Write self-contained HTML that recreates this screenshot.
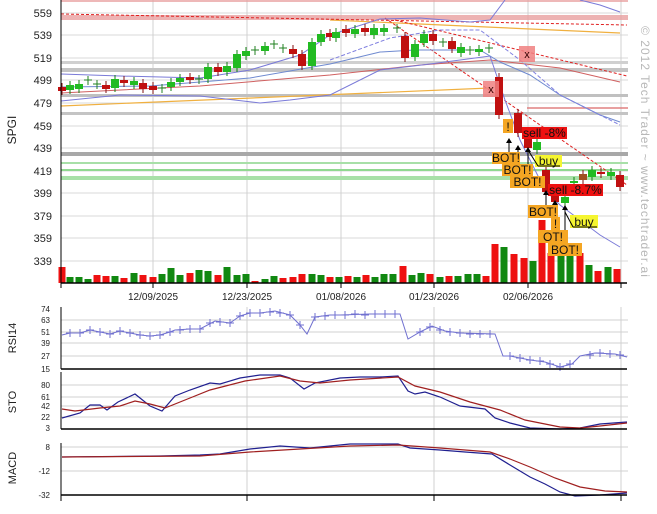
<!DOCTYPE html>
<html><head><meta charset="utf-8"><style>
body{margin:0;background:#fff;}
svg{display:block;font-family:"Liberation Sans",sans-serif;}
</style></head><body>
<svg id="s" width="657" height="514" xmlns="http://www.w3.org/2000/svg"></svg>
<script>
var o='';
function L(x1,y1,x2,y2,c,w,d){o+='<line x1="'+x1+'" y1="'+y1+'" x2="'+x2+'" y2="'+y2+'" stroke="'+c+'" stroke-width="'+(w||1)+'"'+(d?' stroke-dasharray="'+d+'"':'')+'/>';}
function R(x,y,w,h,c,op){o+='<rect x="'+x+'" y="'+y+'" width="'+w+'" height="'+h+'" fill="'+c+'"'+(op?' opacity="'+op+'"':'')+'/>';}
function P(pts,c,w,d){o+='<polyline fill="none" stroke="'+c+'" stroke-width="'+(w||1)+'"'+(d?' stroke-dasharray="'+d+'"':'')+' points="'+pts+'"/>';}
function T(x,y,t,sz,anc,c,extra){o+='<text x="'+x+'" y="'+y+'" font-size="'+sz+'" text-anchor="'+(anc||'start')+'" fill="'+(c||'#000')+'" '+(extra||'')+'>'+t+'</text>';}
var X0=61,X1=628;
var pl=[[559,13],[539,35],[519,58],[499,80],[479,103],[459,126],[439,148],[419,171],[399,193],[379,216],[359,238],[339,261]];
pl.forEach(function(p){L(X0,p[1],X1,p[1],'#d8d8d8');T(52,p[1]+4,p[0],11,'end','#222');});
[153,247,341,434,528,621].forEach(function(x){L(x,0,x,283,'#d0d0d0');});
L(X0,1,X1,1,'#e8a0a0',1.5);
R(X0,15,567,5,'#e8a0a0',0.8);
R(X0,61,567,3,'#d0d0d0');R(X0,68,567,4,'#c4c4c4');R(X0,94,567,3,'#c0c0c0');R(X0,112,567,3,'#c4c4c4');
R(X0,152,567,4,'#a8a8a8');
R(X0,162,567,2,'#a8e0a8');R(X0,169,567,2,'#90d890');R(X0,176,567,4,'#a8e0a8');
L(527,108,X1,108,'#e08080',1.5);
L(X0,106,490,88,'#f0b040',1.2);
L(330,20,620,33,'#f0b040',1.2);
L(X0,14,627,25,'#e02020',1,'3,2');
L(385,18,627,185,'#e02020',1,'3,2');
L(395,20,627,76,'#e02020',1,'3,2');
P('61,93 200,86 330,75 420,65 490,60 560,68 620,82','#d06060',1);
P('61,74 120,76 200,78 250,70 300,55 330,35 380,19 420,18 470,22 490,20 505,0','#7a7ad8',1);
P('580,0 600,5 620,12','#7a7ad8',1);
P('61,101 120,95 200,96 260,103 290,100 330,95 380,70 430,64 490,56 505,100 520,140 545,190 560,205 580,220 600,235 620,247','#7a7ad8',1);
P('61,87 150,86 250,78 330,64 380,52 415,50 480,50 500,62 530,75 560,95 600,115 620,122','#6f8ad0',1);
P('330,60 390,38 440,30 480,30 520,60 560,95 620,125','#8080e0',1,'4,2');
var C=[[62,87,91,'r'],[70,85,90,'g'],[79,84,89,'g'],[88,80,80,'x'],[97,84,84,'x'],[106,85,89,'r'],[115,79,88,'g'],[124,80,83,'r'],[134,81,85,'g'],[143,83,89,'r'],[153,86,90,'r'],[162,88,88,'x'],[171,82,87,'g'],[180,78,82,'g'],[190,77,80,'r'],[199,79,79,'x'],[208,67,79,'g'],[218,67,72,'r'],[227,66,72,'g'],[237,54,68,'g'],[246,51,56,'g'],[255,50,50,'x'],[265,46,51,'g'],[274,44,44,'x'],[283,48,48,'x'],[293,49,54,'r'],[302,54,66,'r'],[312,42,66,'g'],[321,34,42,'g'],[330,33,37,'r'],[336,32,38,'g'],[346,29,33,'r'],[355,29,34,'g'],[365,28,32,'r'],[374,28,35,'g'],[384,28,32,'g'],[397,28,28,'x'],[405,36,58,'r'],[415,44,57,'g'],[424,34,43,'g'],[433,34,41,'r'],[443,42,42,'x'],[452,41,49,'r'],[461,47,53,'g'],[470,50,50,'x'],[479,49,52,'g'],[489,48,48,'x'],[499,77,115,'r'],[518,113,133,'r'],[528,138,148,'r'],[537,142,150,'g'],[546,170,192,'r'],[555,195,202,'r'],[565,197,203,'g'],[574,181,183,'g'],[583,174,180,'b'],[592,170,177,'g'],[601,172,174,'r'],[611,172,176,'g'],[620,175,187,'r']];
C.forEach(function(c){var x=c[0],a=c[1],b=c[2];
 if(c[3]=='x'){L(x-4,a,x+4,a,'#208020');L(x,a-4,x,a+5,'#208020');return;}
 var col=c[3]=='g'?'#22bb22':(c[3]=='b'?'#a05020':'#c01010');var ed=c[3]=='g'?'#108010':'#801010';
 L(x,a-4,x,b+4,ed);R(x-4,a,8,Math.max(b-a,2),col);});
var V=[[62,267,'r'],[70,277,'g'],[79,277,'g'],[88,279,'g'],[97,275,'r'],[106,276,'r'],[115,276,'g'],[124,278,'r'],[134,273,'g'],[143,275,'r'],[153,277,'r'],[162,274,'g'],[171,268,'g'],[180,275,'g'],[190,273,'r'],[199,270,'g'],[208,271,'g'],[218,275,'r'],[227,267,'g'],[237,275,'g'],[246,274,'g'],[255,281,'r'],[265,279,'g'],[274,276,'g'],[283,278,'r'],[293,277,'r'],[302,274,'r'],[312,274,'g'],[321,275,'g'],[330,277,'r'],[339,277,'g'],[348,276,'r'],[357,277,'g'],[366,275,'r'],[375,277,'g'],[384,274,'g'],[393,274,'g'],[403,266,'r'],[412,275,'g'],[421,273,'g'],[430,274,'r'],[440,277,'g'],[449,276,'r'],[458,276,'g'],[468,274,'g'],[477,274,'g'],[486,276,'r'],[495,244,'r'],[504,247,'g'],[514,254,'r'],[524,258,'r'],[533,261,'g'],[542,220,'r'],[551,253,'r'],[561,252,'g'],[570,256,'g'],[580,253,'r'],[589,265,'g'],[598,271,'r'],[608,267,'g'],[617,269,'r']];
V.forEach(function(v){R(v[0]-3.5,v[1],7,283-v[1],v[2]=='g'?'#118811':'#ee1111');});
R(483,81,16,16,'#f08080',0.85);T(491,93,'x',11,'middle','#300');
R(519,46,16,16,'#f08080',0.85);T(527,58,'x',11,'middle','#300');
function B(x,y,w,h,c,t,sz){R(x,y,w,h,c);T(x+w/2,y+h-2,t,sz||12,'middle','#111');}
function A(x,y1,y2){L(x,y1,x,y2+4,'#000',1);o+='<polygon points="'+(x-3)+','+(y2+5)+' '+(x+3)+','+(y2+5)+' '+x+','+y2+'" fill="#000"/>';}
B(503,119,10,14,'#f5a623','!');
A(509,152,138);A(518,163,145);A(528,175,147);
B(522,127,45,12,'#ee1111','sell -8%');
B(492,152,28,12,'#f5a623','BOT!');
B(502,164,31,12,'#f5a623','BOT!');
B(510,176,35,12,'#f5a623','BOT!');
B(535,155,27,12,'#f5f530','buy');L(538,166,560,166,'#000');L(528,150,538,166,'#000');
B(548,184,55,12,'#ee1111','sell -8.7%');
A(546,205,190);A(555,243,200);A(565,230,205);
B(528,205,30,13,'#f5a623','BOT!');
B(551,217,9,13,'#f5a623','!');
B(538,230,30,13,'#f5a623','OT!');
B(548,243,34,13,'#f5a623','BOT!');
B(570,215,28,13,'#f5f530','buy');L(573,227,597,227,'#000');L(565,212,573,227,'#000');
L(X0,0,X0,283,'#000');L(X0,283,627,283,'#000',1.5);
[61,153,247,341,434,528,621].forEach(function(x){L(x,283,x,288,'#000');});
[['12/09/2025',153],['12/23/2025',247],['01/08/2026',341],['01/23/2026',434],['02/06/2026',528]].forEach(function(a){T(a[1],300,a[0],10,'middle','#222');});
T(16,130,'SPGI',12,'middle','#222','transform="rotate(-90 16 130)"');
T(641,152,'© 2012 Tech Trader ~ www.techtrader.ai',12,'middle','#b8b8b8','transform="rotate(90 641 152)" letter-spacing="1"');
[[74,309],[63,320],[51,332],[39,343],[27,356],[15,369]].forEach(function(p){if(p[0]!=74&&p[0]!=15)L(X0,p[1],X1,p[1],'#d0d0d0');T(50,p[1]+3,p[0],8,'end','#222');});
[247,434,621].forEach(function(x){L(x,307,x,495,'#d0d0d0');});
P('62,335 70,333 80,333 90,330 100,332 110,334 120,331 130,333 140,335 150,336 160,335 170,332 175,330 190,329 200,329 215,321 230,323 240,316 250,313 260,313 275,311 290,315 300,325 307,334 315,317 330,315 340,315 370,314 400,314 408,339 420,332 432,326 445,331 460,333 495,334 503,356 510,356 520,358 530,360 545,362 560,367 572,364 580,356 595,353 615,354 627,357','#7070d0',1);
var rs=[[70,333],[80,333],[90,330],[100,332],[110,334],[120,331],[130,333],[140,335],[150,336],[160,335],[170,332],[180,330],[190,329],[200,329],[210,323],[220,322],[230,323],[240,316],[250,313],[260,313],[270,312],[280,313],[290,315],[300,325],[315,317],[325,316],[335,315],[345,315],[355,314],[365,315],[375,314],[385,314],[395,314],[420,332],[430,327],[440,330],[450,332],[460,333],[470,334],[480,334],[490,334],[510,356],[520,358],[530,360],[540,361],[550,364],[560,367],[570,364],[590,355],[600,353],[610,354],[620,355]];
rs.forEach(function(p){L(p[0]-4,p[1],p[0]+4,p[1],'#7070d0');L(p[0],p[1]-4,p[0],p[1]+4,'#7070d0');});
L(X0,307,X0,369,'#000');L(X0,369,627,369,'#000',1.5);
T(16,338,'RSI14',11,'middle','#222','transform="rotate(-90 16 338)"');
[[80,385],[61,397],[42,406],[22,417],[3,428]].forEach(function(p){if(p[0]!=3)L(X0,p[1],X1,p[1],'#d0d0d0');T(50,p[1]+3,p[0],8,'end','#222');});
P('62,418 80,413 90,405 100,405 107,410 118,402 135,394 150,406 162,411 175,396 190,390 210,383 220,384 240,378 260,375 280,375 290,378 304,389 315,383 340,378 360,377 380,377 398,376 408,391 415,394 425,392 440,397 460,406 485,409 495,418 510,423 530,428 560,429 580,428 600,424 627,422','#202090',1.2);
P('62,409 75,411 100,408 120,406 135,401 150,404 165,408 190,398 210,390 245,381 280,376 300,381 320,383 350,380 398,377 415,386 440,392 470,402 500,410 525,420 560,427 580,428 600,426 627,423','#a02020',1.2);
L(X0,372,X0,429,'#000');L(X0,429,627,429,'#000',1.5);
T(16,402,'STO',11,'middle','#222','transform="rotate(-90 16 402)"');
[[8,447],[-12,471],[-32,495]].forEach(function(p){if(p[0]!=-32)L(X0,p[1],X1,p[1],'#d0d0d0');T(50,p[1]+3,p[0],8,'end','#222');});
P('62,457 160,456 200,455 220,454 250,449 280,446 310,448 350,444 398,444 410,448 440,450 465,452 492,454 510,465 530,477 545,484 560,492 575,496 600,495 627,493','#202090',1.2);
P('62,457 200,456 250,452 300,449 350,446 398,445 440,448 490,452 510,459 530,467 555,478 580,487 605,491 627,492','#a02020',1.2);
L(X0,443,X0,495,'#000');L(X0,495,627,495,'#000',1.5);
[61,247,434,621].forEach(function(x){L(x,495,x,501,'#000');});
T(16,468,'MACD',11,'middle','#222','transform="rotate(-90 16 468)"');
document.getElementById('s').innerHTML=o;
</script>
</body></html>
